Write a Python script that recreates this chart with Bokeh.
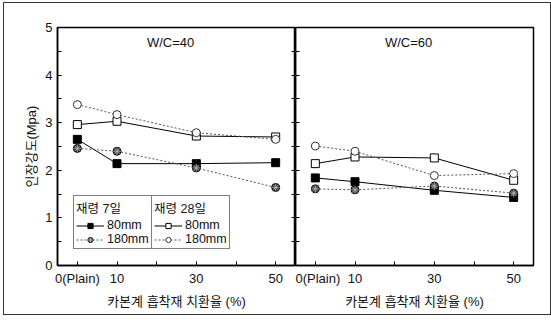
from bokeh.plotting import figure
from bokeh.models import (FixedTicker, SingleIntervalTicker, LinearAxis, Range1d,
                          Legend, LegendItem, Label)
from bokeh.layouts import row
from bokeh.embed import file_html
from bokeh.resources import INLINE

# ---- data ----
x_vals = [0, 10, 30, 50]
x_tick_labels = {0: "0(Plain)", 10: "10", 20: "", 30: "30", 40: "", 50: "50"}

# W/C = 40
wc40_d7_80 = [2.65, 2.14, 2.14, 2.16]
wc40_d7_180 = [2.46, 2.40, 2.05, 1.64]
wc40_d28_80 = [2.96, 3.03, 2.72, 2.70]
wc40_d28_180 = [3.38, 3.17, 2.79, 2.65]

# W/C = 60
wc60_d7_80 = [1.84, 1.76, 1.58, 1.43]
wc60_d7_180 = [1.61, 1.59, 1.67, 1.52]
wc60_d28_80 = [2.14, 2.28, 2.26, 1.79]
wc60_d28_180 = [2.51, 2.40, 1.89, 1.93]

panel_titles = ["W/C=40", "W/C=60"]
x_title = "카본계 흡착재 치환율 (%)"
y_title = "인장강도(Mpa)"
legend_titles = ["재령 7일", "재령 28일"]
size_labels = ["80mm", "180mm"]

FONT = "Liberation Sans, Noto Sans CJK KR"
y_minor = [i * 0.5 for i in range(11)]


def style_x(p):
    ax = p.xaxis[0]
    ax.ticker = FixedTicker(ticks=[0, 10, 20, 30, 40, 50])
    ax.major_label_overrides = x_tick_labels
    ax.major_tick_in = 4
    ax.major_tick_out = 0
    ax.minor_tick_line_color = None
    ax.axis_line_width = 1.5
    ax.major_label_text_font = FONT
    ax.major_label_text_font_size = "13px"
    ax.major_label_text_color = "#111111"
    ax.major_label_standoff = 5
    ax.axis_label = x_title
    ax.axis_label_text_font = FONT
    ax.axis_label_text_font_size = "13px"
    ax.axis_label_text_font_style = "normal"
    ax.axis_label_text_color = "#111111"
    ax.axis_label_standoff = 5


def tick_only_axis():
    ax = LinearAxis(ticker=FixedTicker(ticks=[], minor_ticks=y_minor))
    ax.minor_tick_in = 4
    ax.minor_tick_out = 0
    ax.major_tick_out = 0
    ax.major_label_standoff = 0
    ax.axis_line_width = 1.5
    return ax


def make_panel(width, bl, br, series, title, with_labels):
    p = figure(width=width, height=311, output_backend="svg", toolbar_location=None,
               x_range=Range1d(-5, 55), y_range=Range1d(0, 5),
               min_border_left=bl, min_border_right=br,
               min_border_top=24, min_border_bottom=49,
               y_axis_location=None)
    p.grid.visible = False
    p.outline_line_color = "black"
    p.outline_line_width = 1.5
    p.background_fill_color = "white"
    p.border_fill_color = "white"
    style_x(p)

    if with_labels:
        yl = LinearAxis(ticker=SingleIntervalTicker(interval=1, num_minor_ticks=2))
        yl.major_tick_in = 4
        yl.major_tick_out = 0
        yl.minor_tick_in = 4
        yl.minor_tick_out = 0
        yl.axis_line_width = 1.5
        yl.major_label_text_font = FONT
        yl.major_label_text_font_size = "13px"
        yl.major_label_text_color = "#111111"
        yl.major_label_standoff = 5
        yl.axis_label = y_title
        yl.axis_label_text_font = FONT
        yl.axis_label_text_font_size = "13px"
        yl.axis_label_text_font_style = "normal"
        yl.axis_label_text_color = "#111111"
        yl.axis_label_standoff = 3
        p.add_layout(yl, "left")
        p.add_layout(tick_only_axis(), "right")
    else:
        p.add_layout(tick_only_axis(), "left")

    d7_80, d7_180, d28_80, d28_180 = series
    rs = {}
    l = p.line(x_vals, d7_80, line_color="black", line_width=1)
    m = p.scatter(x_vals, d7_80, marker="square", size=8, fill_color="black", line_color="black")
    rs["d7_80"] = [l, m]
    l = p.line(x_vals, d7_180, line_color="#555555", line_width=1, line_dash="2 2")
    m = p.scatter(x_vals, d7_180, marker="circle", size=8, fill_color="#444444", line_color="black")
    m2 = p.scatter(x_vals, d7_180, marker="asterisk", size=8, line_color="#cccccc", line_width=0.6)
    rs["d7_180"] = [l, m, m2]
    l = p.line(x_vals, d28_80, line_color="black", line_width=1)
    m = p.scatter(x_vals, d28_80, marker="square", size=8, fill_color="white", line_color="black")
    rs["d28_80"] = [l, m]
    l = p.line(x_vals, d28_180, line_color="#555555", line_width=1, line_dash="2 2")
    m = p.scatter(x_vals, d28_180, marker="circle", size=8, fill_color="white", line_color="#333333")
    rs["d28_180"] = [l, m]

    p.add_layout(Label(x=23.5, y=4.68, text=title, text_align="center", text_baseline="middle",
                       text_font=FONT, text_font_size="13px", text_color="#111111"))
    return p, rs


p1, rs1 = make_panel(291, 53, 0, [wc40_d7_80, wc40_d7_180, wc40_d28_80, wc40_d28_180],
                     panel_titles[0], True)
p2, rs2 = make_panel(255, 0, 17, [wc60_d7_80, wc60_d7_180, wc60_d28_80, wc60_d28_180],
                     panel_titles[1], False)


def make_legend(title, items, loc):
    lg = Legend(items=items, title=title, location=loc, orientation="vertical",
                padding=2, spacing=0, margin=0, glyph_width=28, glyph_height=13,
                label_standoff=3, label_height=13, title_standoff=1,
                border_line_color="black", border_line_width=1,
                background_fill_color="white", background_fill_alpha=1,
                label_text_font=FONT, label_text_font_size="12.5px", label_text_color="#111111",
                title_text_font=FONT, title_text_font_size="12.5px", title_text_font_style="normal",
                title_text_color="#111111")
    return lg


leg1 = make_legend(legend_titles[0],
                   [LegendItem(label=size_labels[0], renderers=rs1["d7_80"]),
                    LegendItem(label=size_labels[1], renderers=rs1["d7_180"])], (16, 16))
leg2 = make_legend(legend_titles[1],
                   [LegendItem(label=size_labels[0], renderers=rs1["d28_80"]),
                    LegendItem(label=size_labels[1], renderers=rs1["d28_180"])], (94, 16))
p1.add_layout(leg1, "center")
p1.add_layout(leg2, "center")

layout = row(p1, p2, spacing=0,
             styles={"border": "1px solid #333333", "margin-left": "3px", "margin-top": "2px"})
open("out.html", "w").write(file_html(layout, INLINE))
